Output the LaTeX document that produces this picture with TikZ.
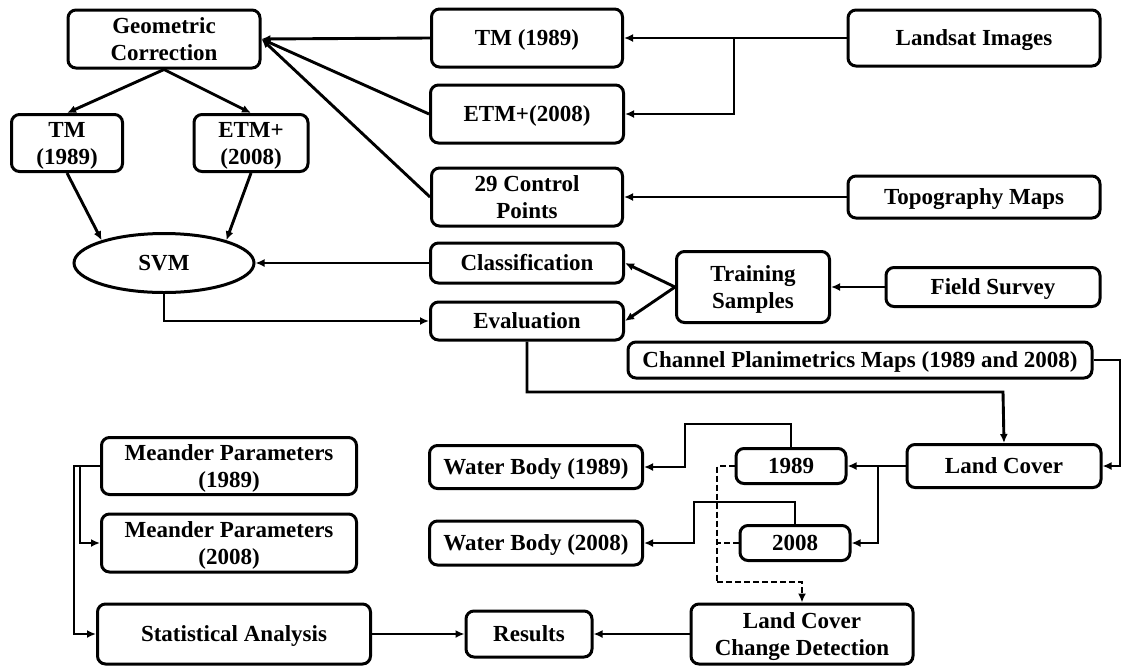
\documentclass[tikz,border=0pt]{standalone}
\usepackage{fontspec}
\setmainfont{Liberation Serif}
\usetikzlibrary{arrows.meta,shapes.geometric}
\tikzset{
  box/.style={draw, line width=3pt, rounded corners=8pt, align=center, inner sep=0pt,
    font=\fontsize{23}{27}\selectfont\bfseries, text height=16pt, text depth=1pt},
  boxtwo/.style={box, text height=43pt, text depth=1pt},
  oval/.style={draw, ellipse, line width=3pt, inner sep=0pt,
    font=\fontsize{23}{27}\selectfont\bfseries, text height=16pt, text depth=1pt},
  arr/.style={line width=2.9pt, -{Latex[length=9pt,width=8pt]}},
  dsh/.style={line width=2.9pt, dash pattern=on 6pt off 3pt},
}
\begin{document}
\begin{tikzpicture}[x=1pt,y=-1pt]
\useasboundingbox (0,0) rectangle (1129,670);
% nodes
\node[boxtwo, minimum width=192, minimum height=58] (gc) at (164,39) {Geometric\\Correction};
\node[box, minimum width=191, minimum height=58] (tma) at (527,38) {TM (1989)};
\node[box, minimum width=252, minimum height=56] (ls) at (974,38) {Landsat Images};
\node[box, minimum width=193, minimum height=58] (etma) at (527,114) {ETM+(2008)};
\node[boxtwo, minimum width=111, minimum height=57] (tmb) at (67,143) {TM\\(1989)};
\node[boxtwo, minimum width=114, minimum height=57] (etmb) at (251,143) {ETM+\\(2008)};
\node[boxtwo, minimum width=191, minimum height=58] (cp) at (527,197) {29 Control\\Points};
\node[box, minimum width=252, minimum height=42] (topo) at (974,197) {Topography Maps};
\node[oval, minimum width=180, minimum height=59] (svm) at (164,263) {SVM};
\node[box, minimum width=193, minimum height=40] (cls) at (527,263) {Classification};
\node[boxtwo, minimum width=153, minimum height=71] (ts) at (753,287) {Training\\Samples};
\node[box, minimum width=214, minimum height=39] (fs) at (993,287) {Field Survey};
\node[box, minimum width=193, minimum height=38] (ev) at (527,321) {Evaluation};
\node[box, minimum width=464, minimum height=36] (cpm) at (860,360) {Channel Planimetrics Maps (1989 and 2008)};
\node[box, minimum width=194, minimum height=43] (lc) at (1004,466) {Land Cover};
\node[box, minimum width=110, minimum height=35] (ya) at (791,466) {1989};
\node[box, minimum width=110, minimum height=35] (yb) at (795,543) {2008};
\node[box, minimum width=213, minimum height=43] (wba) at (536,467) {Water Body (1989)};
\node[box, minimum width=213, minimum height=44] (wbb) at (536,543) {Water Body (2008)};
\node[boxtwo, minimum width=255, minimum height=57] (mpa) at (229,466) {Meander Parameters\\(1989)};
\node[boxtwo, minimum width=255, minimum height=58] (mpb) at (229,543) {Meander Parameters\\(2008)};
\node[box, minimum width=273, minimum height=60] (sa) at (234,634) {Statistical Analysis};
\node[box, minimum width=126, minimum height=46] (res) at (529,634) {Results};
\node[boxtwo, minimum width=222, minimum height=60] (lcd) at (802,634) {Land Cover\\Change Detection};
% junction coordinates
\coordinate (j1) at (734,38);
\coordinate (j2) at (878,466);
\coordinate (j3) at (685,424);
\coordinate (j4) at (694,502);
\coordinate (d1) at (717,466);
\coordinate (d2) at (717,582);
\coordinate (d3) at (717,543);
\coordinate (ea) at (1003,392);
\coordinate (ca) at (1120,360);
\coordinate (m1) at (80,466);
\coordinate (m2) at (74,466);
% connectors
\draw[arr] (ls.west) -- (tma.east);
\draw[arr] (j1) |- (etma.east);
\draw[arr] (tma.west) -- (gc.east);
\draw[arr] (etma.west) -- (gc.east);
\draw[arr] (cp.west) -- (gc.east);
\draw[arr] (topo.west) -- (cp.east);
\draw[arr] (gc.south) -- (tmb.north);
\draw[arr] (gc.south) -- (etmb.north);
\draw[arr] (tmb.south) -- (svm.160);
\draw[arr] (etmb.south) -- (svm.20);
\draw[arr] (cls.west) -- (svm.east);
\draw[arr] (ts.west) -- (cls.east);
\draw[arr] (ts.west) -- (ev.east);
\draw[arr] (fs.west) -- (ts.east);
\draw[arr] (svm.south) |- (ev.west);
\draw[arr] (ev.south) |- (ea) -- (lc.north);
\draw[arr] (cpm.east) -- (ca) |- (lc.east);
\draw[arr] (lc.west) -- (ya.east);
\draw[arr] (j2) |- (yb.east);
\draw[arr] (ya.north) |- (j3) |- (wba.east);
\draw[arr] (yb.north) |- (j4) |- (wbb.east);
\draw[dsh] (ya.west) -- (d1) -- (d2);
\draw[dsh] (yb.west) -- (d3);
\draw[dsh, -{Latex[length=9pt,width=8pt]}] (d2) -| (lcd.north);
\draw[arr] (mpa.west) -- (m1) |- (mpb.west);
\draw[arr] (m1) -- (m2) |- (sa.west);
\draw[arr] (sa.east) -- (res.west);
\draw[arr] (lcd.west) -- (res.east);
\end{tikzpicture}
\end{document}
